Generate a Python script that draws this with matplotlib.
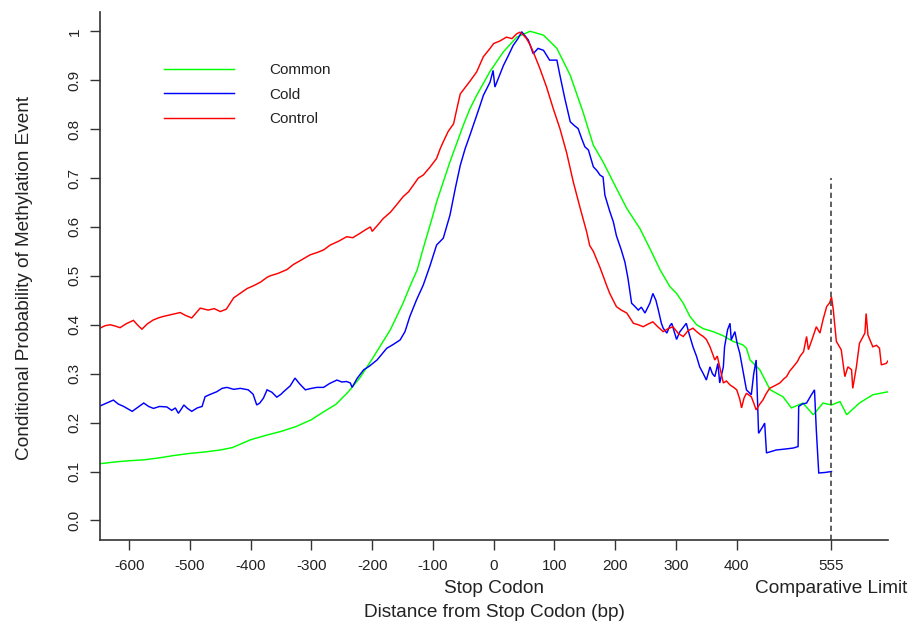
import matplotlib
matplotlib.use("Agg")
import matplotlib.pyplot as plt
import matplotlib.transforms as mtransforms

plt.rcParams['font.family'] = ['Liberation Sans', 'DejaVu Sans']

# ---------------- data ----------------
common_x = [-648, -620, -600, -575, -550, -525, -500, -475, -450, -430, -415, -400,
            -375, -350, -325, -300, -280, -260, -240, -220, -200, -185, -170, -150,
            -137, -126, -116, -100, -94, -72, -50, -39, -28, -6, 16, 38, 60, 82, 104,
            126, 147, 164, 180, 202, 219, 241, 257, 274, 290, 301, 312, 323, 334, 345,
            361, 377, 394, 410, 416, 422, 438, 455, 476, 490, 509, 526, 542, 556, 570,
            581, 602, 624, 649]
common_y = [0.116, 0.120, 0.122, 0.124, 0.128, 0.133, 0.137, 0.140, 0.144, 0.149, 0.157, 0.165,
            0.174, 0.182, 0.192, 0.206, 0.222, 0.237, 0.262, 0.292, 0.330, 0.360, 0.390, 0.442,
            0.481, 0.512, 0.556, 0.624, 0.651, 0.733, 0.808, 0.842, 0.869, 0.918, 0.958, 0.988,
            1.000, 0.992, 0.965, 0.910, 0.835, 0.767, 0.733, 0.679, 0.638, 0.596, 0.556, 0.512,
            0.478, 0.464, 0.444, 0.417, 0.400, 0.392, 0.386, 0.378, 0.366, 0.359, 0.352, 0.328,
            0.308, 0.267, 0.253, 0.230, 0.240, 0.216, 0.240, 0.236, 0.243, 0.216, 0.240, 0.257,
            0.263]

control_x = [-648, -640, -631, -622, -615, -605, -593, -585, -579, -570, -560, -552, -544,
             -530, -516, -507, -497, -490, -483, -470, -460, -450, -440, -428, -420, -406,
             -395, -384, -373, -368, -355, -340, -330, -320, -302, -290, -280, -269, -255,
             -242, -232, -220, -210, -203, -200, -190, -182, -170, -160, -149, -140, -132,
             -124, -116, -105, -94, -88, -83, -75, -66, -60, -55, -47, -39, -28, -17, -6, 0,
             10, 21, 30, 38, 43, 49, 54, 60, 65, 76, 87, 98, 109, 120, 131, 142, 153, 158,
             164, 175, 186, 191, 202, 210, 219, 230, 238, 246, 255, 262, 270, 279, 287, 295,
             304, 312, 320, 328, 334, 340, 345, 350, 356, 364, 368, 372, 378, 383, 389, 395,
             400, 405, 408, 412, 416, 424, 428, 432, 438, 443, 448, 454, 462, 471, 478, 482,
             487, 493, 500, 504, 510, 515, 518, 524, 531, 537, 542, 548, 553, 556, 559, 564,
             572, 578, 583, 589, 591, 597, 602, 611, 613, 616, 624, 630, 635, 638, 646, 649]
control_y = [0.393, 0.398, 0.400, 0.397, 0.394, 0.402, 0.409, 0.398, 0.391, 0.402, 0.410, 0.414, 0.417,
             0.421, 0.425, 0.419, 0.414, 0.424, 0.434, 0.430, 0.433, 0.427, 0.432, 0.455, 0.462, 0.474,
             0.480, 0.487, 0.497, 0.500, 0.505, 0.513, 0.523, 0.530, 0.543, 0.548, 0.553, 0.563, 0.571,
             0.580, 0.578, 0.587, 0.595, 0.600, 0.591, 0.605, 0.617, 0.630, 0.645, 0.662, 0.672, 0.686,
             0.700, 0.706, 0.722, 0.740, 0.760, 0.774, 0.795, 0.811, 0.845, 0.872, 0.885, 0.898, 0.917,
             0.948, 0.965, 0.975,
             0.980, 0.988, 0.985, 0.995, 0.998, 0.992, 0.985, 0.972, 0.958, 0.924, 0.886, 0.842, 0.801,
             0.752, 0.692, 0.640, 0.590, 0.562,
             0.550, 0.517, 0.480, 0.464, 0.437, 0.430, 0.424, 0.403, 0.400, 0.396, 0.402, 0.406, 0.396,
             0.386, 0.392, 0.396,
             0.382, 0.376, 0.388, 0.393, 0.386, 0.380, 0.376, 0.370, 0.355, 0.328, 0.336, 0.314, 0.281,
             0.285, 0.277, 0.272,
             0.267, 0.248, 0.230, 0.250, 0.260, 0.253, 0.240, 0.226, 0.238, 0.246, 0.258, 0.270, 0.275,
             0.281, 0.290, 0.294,
             0.305, 0.314, 0.325, 0.335, 0.345, 0.376, 0.349, 0.370, 0.396, 0.383, 0.410, 0.437, 0.445,
             0.457, 0.430, 0.366,
             0.349, 0.294, 0.314, 0.308, 0.270, 0.314, 0.362, 0.383, 0.423, 0.379, 0.355, 0.358, 0.352,
             0.318, 0.321, 0.326]

cold_x = [-648, -637, -626, -618, -609, -602, -595, -585, -576, -568, -560, -550, -538, -530,
          -524, -519, -514, -510, -504, -497, -488, -480, -475, -466, -456, -447, -439, -428,
          -417, -404, -396, -390, -385, -379, -373, -365, -357, -350, -346, -335, -327, -320,
          -310, -300, -291, -280, -270, -258, -250, -242, -236, -233, -225, -214, -205, -192,
          -184, -176, -165, -154, -146, -138, -127, -116, -105, -94, -83, -72, -63, -55, -47,
          -39, -28, -22, -17, -6, -1, 2, 9, 16, 24, 32, 40, 46, 52, 57, 65, 73, 82, 92, 104,
          109, 117, 126, 132, 139, 145, 150, 156, 164, 170, 175, 180, 183, 191, 197, 202, 210,
          216, 221, 227, 232, 238, 243, 249, 257, 262, 267, 271, 276, 279, 285, 290, 293, 301,
          306, 312, 317, 322, 328, 334, 339, 345, 350, 356, 360, 364, 369, 372, 378, 380, 385,
          389, 391, 397, 401, 405, 410, 416, 420, 424, 428, 432, 434, 436, 443, 446, 449, 465,
          480, 493, 501, 502, 508, 515, 522, 528, 531, 535, 545, 556]
cold_y = [0.234, 0.240, 0.246, 0.238, 0.233, 0.228, 0.223, 0.232, 0.240, 0.233, 0.229, 0.233, 0.232, 0.225,
          0.230, 0.219, 0.228, 0.236, 0.229, 0.223, 0.230, 0.233, 0.253, 0.258, 0.263, 0.270, 0.272, 0.268,
          0.270, 0.267, 0.258, 0.236, 0.240, 0.250, 0.267, 0.262, 0.252, 0.258, 0.263, 0.275, 0.291, 0.280,
          0.267, 0.270, 0.272, 0.272, 0.280, 0.287, 0.283, 0.284, 0.281, 0.272, 0.290, 0.308, 0.315, 0.328,
          0.340, 0.352, 0.360, 0.369, 0.386, 0.417, 0.451, 0.481, 0.520, 0.563, 0.577, 0.624, 0.680, 0.726,
          0.760,
          0.788, 0.828, 0.850, 0.869, 0.896, 0.920, 0.886, 0.908, 0.930, 0.950, 0.971, 0.985, 0.999, 0.990,
          0.982, 0.954, 0.965, 0.961, 0.941, 0.941,
          0.910, 0.863, 0.815, 0.808, 0.801, 0.780, 0.764, 0.757, 0.723, 0.715, 0.706, 0.702, 0.665, 0.632,
          0.610, 0.582, 0.553,
          0.528, 0.495, 0.444, 0.438, 0.430, 0.436, 0.424, 0.444, 0.464, 0.450, 0.430, 0.403, 0.393, 0.383,
          0.398, 0.403, 0.370,
          0.385, 0.395, 0.403, 0.380, 0.355, 0.335, 0.314, 0.300, 0.287, 0.314, 0.300, 0.294, 0.321, 0.281,
          0.314, 0.355, 0.390,
          0.403, 0.369, 0.386, 0.360, 0.342, 0.308, 0.267, 0.262, 0.257, 0.300, 0.328, 0.250, 0.178, 0.192,
          0.199, 0.138, 0.144,
          0.146, 0.148, 0.151, 0.233, 0.238, 0.240, 0.255, 0.267, 0.185, 0.097, 0.098, 0.100]

series_names = ["Common", "Cold", "Control"]
series_colors = ["#00FF00", "#0000FF", "#FF0000"]

x_ticks = [-600, -500, -400, -300, -200, -100, 0, 100, 200, 300, 400, 555]
x_tick_labels = ["-600", "-500", "-400", "-300", "-200", "-100", "0", "100", "200", "300", "400", "555"]
y_ticks = [0.0, 0.1, 0.2, 0.3, 0.4, 0.5, 0.6, 0.7, 0.8, 0.9, 1.0]
y_tick_labels = ["0.0", "0.1", "0.2", "0.3", "0.4", "0.5", "0.6", "0.7", "0.8", "0.9", "1"]

stop_codon_x = 0
limit_x = 555
limit_top = 0.70
extra_labels = ["Stop Codon", "Comparative Limit"]

XLIM = (-648, 649)
YLIM = (-0.04, 1.04)

# ---------------- figure ----------------
W, H = 914, 628
fig = plt.figure(figsize=(W / 100, H / 100), dpi=100)
ax = fig.add_axes([100 / W, 1 - 540 / H, 788 / W, 528.3 / H])

txt = "#222222"
axc = "#333333"

for xs, ys, name, col in [(common_x, common_y, series_names[0], series_colors[0]),
                          (cold_x, cold_y, series_names[1], series_colors[1]),
                          (control_x, control_y, series_names[2], series_colors[2])]:
    ax.plot(xs, ys, color=col, lw=1.05, label=name, solid_joinstyle='miter')

ax.vlines(limit_x, YLIM[0], limit_top, colors="#444444", linestyles=(0, (3.2, 2.2)), lw=1.2)

ax.set_xlim(*XLIM)
ax.set_ylim(*YLIM)

for s in ["top", "right"]:
    ax.spines[s].set_visible(False)
for s in ["left", "bottom"]:
    ax.spines[s].set_color(axc)
    ax.spines[s].set_linewidth(1.2)

ax.set_xticks(x_ticks)
ax.set_xticklabels(x_tick_labels)
ax.set_yticks(y_ticks)
ax.set_yticklabels(y_tick_labels)
ax.tick_params(axis='both', direction='out', length=7.2, width=1.0, color=axc,
               labelsize=11, labelcolor=txt)
ax.tick_params(axis='x', pad=6.5)
ax.tick_params(axis='y', pad=6.0, labelrotation=90)
for lab in ax.get_yticklabels():
    lab.set_va('center')

trans = mtransforms.blended_transform_factory(ax.transData, ax.transAxes)
ax.text(stop_codon_x, -0.0998, extra_labels[0], transform=trans, ha='center', va='baseline',
        fontsize=13.7, color=txt)
ax.text(limit_x, -0.0998, extra_labels[1], transform=trans, ha='center', va='baseline',
        fontsize=13.7, color=txt)

ax.set_xlabel("Distance from Stop Codon (bp)", fontsize=13.7, color=txt)
ax.xaxis.set_label_coords(0.5, -0.122)
ax.set_ylabel("Conditional Probability of Methylation Event", fontsize=13.7, color=txt)
ax.yaxis.set_label_coords(-0.085, 0.495)

leg = ax.legend(loc='upper left', bbox_to_anchor=(64 / 788, 1 - (63 - 11.7) / 528.3),
                frameon=False, fontsize=11, handlelength=4.6, handletextpad=2.3,
                labelspacing=0.69, borderpad=0, borderaxespad=0)
for t in leg.get_texts():
    t.set_color(txt)

fig.savefig("out.png", dpi=100)
